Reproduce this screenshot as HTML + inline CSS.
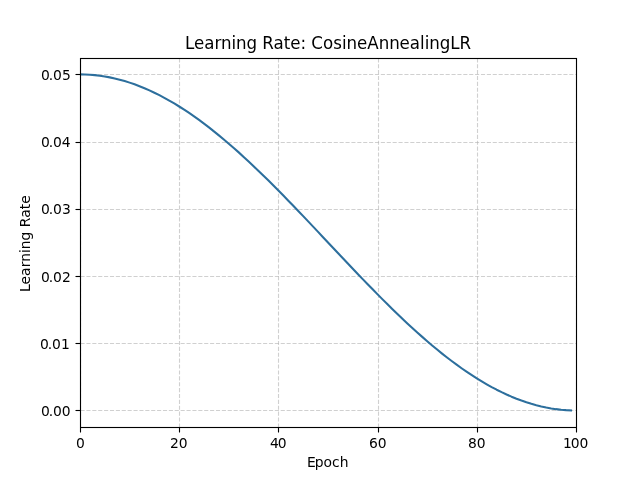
<!DOCTYPE html>
<html lang="en"><head><meta charset="utf-8"><title>Learning Rate: CosineAnnealingLR</title>
<style>html,body{margin:0;padding:0;background:#fff;width:640px;height:480px;overflow:hidden}svg{display:block}text{font-family:"DejaVu Sans","Liberation Sans",sans-serif;fill:#000}</style></head><body>
<svg width="640" height="480" viewBox="0 0 640 480">
<rect width="640" height="480" fill="#fff"/>
<defs><clipPath id="c"><rect x="80" y="57.6" width="496" height="369.6"/></clipPath></defs>
<g clip-path="url(#c)" stroke="#b0b0b0" stroke-opacity="0.6" stroke-width="1.1111" stroke-dasharray="4.1111 1.7778" fill="none">
<path d="M80.50 427.50V58.50"/>
<path d="M179.50 427.50V58.50"/>
<path d="M278.50 427.50V58.50"/>
<path d="M378.50 427.50V58.50"/>
<path d="M477.50 427.50V58.50"/>
<path d="M576.50 427.50V58.50"/>
<path d="M80.50 410.50H576.50"/>
<path d="M80.50 343.50H576.50"/>
<path d="M80.50 276.50H576.50"/>
<path d="M80.50 209.50H576.50"/>
<path d="M80.50 142.50H576.50"/>
<path d="M80.50 74.50H576.50"/>
</g>
<g stroke="#000" stroke-width="1.1111" fill="none">
<path d="M80.50 427.50V432.50"/>
<path d="M179.50 427.50V432.50"/>
<path d="M278.50 427.50V432.50"/>
<path d="M378.50 427.50V432.50"/>
<path d="M477.50 427.50V432.50"/>
<path d="M576.50 427.50V432.50"/>
<path d="M80.50 410.50H75.50"/>
<path d="M80.50 343.50H75.50"/>
<path d="M80.50 276.50H75.50"/>
<path d="M80.50 209.50H75.50"/>
<path d="M80.50 142.50H75.50"/>
<path d="M80.50 74.50H75.50"/>
</g>
<polyline clip-path="url(#c)" points="80.000,74.400 84.960,74.483 89.920,74.732 94.880,75.146 99.840,75.725 104.800,76.469 109.760,77.376 114.720,78.447 119.680,79.679 124.640,81.072 129.600,82.625 134.560,84.334 139.520,86.200 144.480,88.221 149.440,90.393 154.400,92.715 159.360,95.186 164.320,97.801 169.280,100.559 174.240,103.458 179.200,106.493 184.160,109.663 189.120,112.963 194.080,116.392 199.040,119.945 204.000,123.618 208.960,127.409 213.920,131.314 218.880,135.328 223.840,139.448 228.800,143.669 233.760,147.988 238.720,152.400 243.680,156.901 248.640,161.487 253.600,166.152 258.560,170.893 263.520,175.704 268.480,180.581 273.440,185.519 278.400,190.514 283.360,195.559 288.320,200.651 293.280,205.784 298.240,210.954 303.200,216.154 308.160,221.380 313.120,226.627 318.080,231.890 323.040,237.163 328.000,242.441 332.960,247.720 337.920,252.993 342.880,258.256 347.840,263.503 352.800,268.729 357.760,273.929 362.720,279.099 367.680,284.232 372.640,289.324 377.600,294.369 382.560,299.363 387.520,304.302 392.480,309.179 397.440,313.990 402.400,318.731 407.360,323.396 412.320,327.982 417.280,332.483 422.240,336.895 427.200,341.214 432.160,345.435 437.120,349.555 442.080,353.569 447.040,357.474 452.000,361.265 456.960,364.938 461.920,368.491 466.880,371.920 471.840,375.220 476.800,378.390 481.760,381.425 486.720,384.324 491.680,387.082 496.640,389.697 501.600,392.167 506.560,394.490 511.520,396.662 516.480,398.682 521.440,400.548 526.400,402.258 531.360,403.811 536.320,405.204 541.280,406.436 546.240,407.506 551.200,408.414 556.160,409.158 561.120,409.737 566.080,410.151 571.040,410.400" fill="none" stroke="#2d6f9d" stroke-width="2.0833" stroke-linejoin="round" stroke-linecap="square"/>
<rect x="80.50" y="58.50" width="496.00" height="369.00" fill="none" stroke="#000" stroke-width="1.1111"/>
<text font-size="13.8889" x="76.03" y="448">0</text>
<text font-size="13.8889" x="170.05 178.86" y="448">20</text>
<text font-size="13.8889" x="269.96 277.77" y="448">40</text>
<text font-size="13.8889" x="369.12 377.68" y="448">60</text>
<text font-size="13.8889" x="468.08 476.64" y="448">80</text>
<text font-size="13.8889" x="563.10 570.66 579.49" y="448">100</text>
<text font-size="13.8889" x="307.00 314.77 323.56 332.06 339.69" y="467">Epoch</text>
<text font-size="13.8889" x="40.96 48.77 52.95 61.77" y="416">0.00</text>
<text font-size="13.8889" x="39.97 47.78 51.96 61.03" y="349">0.01</text>
<text font-size="13.8889" x="41.09 48.65 53.08 61.90" y="282">0.02</text>
<text font-size="13.8889" x="41.05 48.86 53.04 62.11" y="214">0.03</text>
<text font-size="13.8889" x="41.12 48.68 53.11 61.68" y="147">0.04</text>
<text font-size="13.8889" x="41.10 48.66 53.09 61.91" y="80">0.05</text>
<text font-size="13.8889" transform="translate(29.939 243.400) rotate(-90)" x="-48.73 -41.00 -32.72 -23.97 -18.25 -9.72 -5.86 2.94 12.00 16.16 25.73 34.23 39.69" y="0">Learning Rate</text>
<text font-size="16.6667" transform="translate(328.06 49) scale(1 1.08)" x="-143.11 -134.13 -123.89 -113.68 -107.14 -96.58 -91.96 -81.66 -71.09 -65.79 -54.59 -44.39 -37.86 -27.62 -22.01 -16.71 -5.09 5.09 14.02 18.39 28.95 39.18 50.58 61.13 71.44 81.68 91.88 96.76 101.13 111.69 122.26 131.53" y="0">Learning Rate: CosineAnnealingLR</text>
</svg></body></html>
